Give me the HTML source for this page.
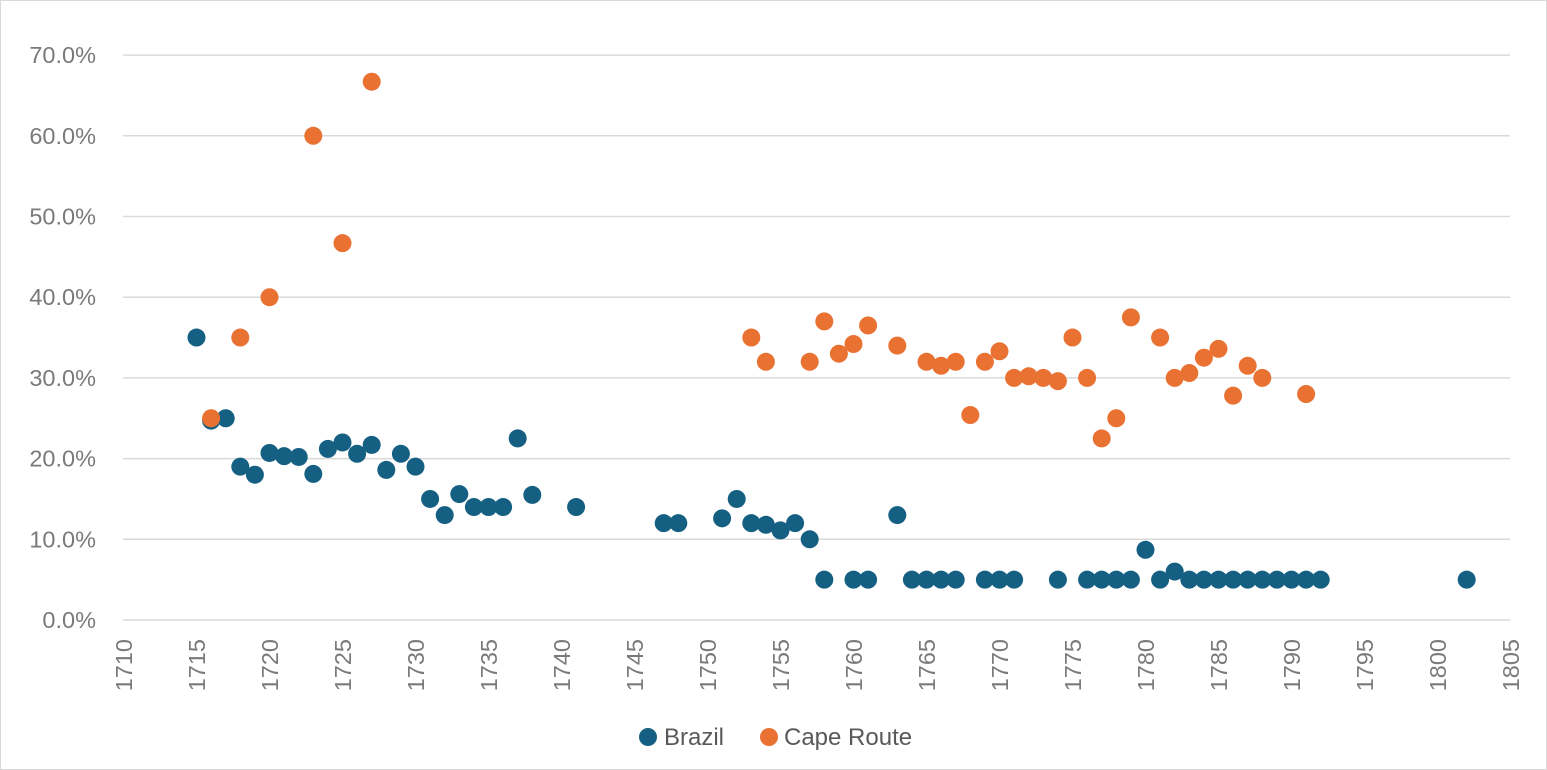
<!DOCTYPE html>
<html><head><meta charset="utf-8"><style>
html,body{margin:0;padding:0;background:#fff}
svg{display:block;font-family:"Liberation Sans",sans-serif}
</style></head><body>
<svg id="c" width="1547" height="770" xmlns="http://www.w3.org/2000/svg">
<rect x="0.5" y="0.5" width="1546" height="769" fill="#fff" stroke="#d9d9d9"/>
<g id="g"></g>
<circle cx="648" cy="737" r="9" fill="#156082"/>
<text x="664" y="745" font-size="24" fill="#595959">Brazil</text>
<circle cx="769" cy="737" r="9" fill="#E97132"/>
<text x="784" y="745" font-size="24" fill="#595959">Cape Route</text>
</svg>
<script>
var g=document.getElementById('g'),s='';
function X(yr){return 123.5+(yr-1710)*14.6;}
function Y(v){return 620-v*8.07;}
for(var i=0;i<=7;i++){var y=Y(i*10);
s+='<line x1="123" x2="1510" y1="'+y+'" y2="'+y+'" stroke="#d9d9d9" stroke-width="1.5"/>';
s+='<text x="96" y="'+(y+8)+'" font-size="23.5" fill="#7a7a7a" text-anchor="end">'+(i*10)+'.0%</text>';}
for(var yr=1710;yr<=1805;yr+=5){var x=X(yr);
s+='<text transform="translate('+(x+8.5)+',639) rotate(-90)" font-size="23.5" fill="#7a7a7a" text-anchor="end">'+yr+'</text>';}
var b=[[1715,35],[1716,24.7],[1717,25],[1718,19],[1719,18],[1720,20.7],[1721,20.3],[1722,20.2],[1723,18.1],[1724,21.2],[1725,22],[1726,20.6],[1727,21.7],[1728,18.6],[1729,20.6],[1730,19],[1731,15],[1732,13],[1733,15.6],[1734,14],[1735,14],[1736,14],[1737,22.5],[1738,15.5],[1741,14],[1747,12],[1748,12],[1751,12.6],[1752,15],[1753,12],[1754,11.8],[1755,11.1],[1756,12],[1757,10],[1758,5],[1760,5],[1761,5],[1763,13],[1764,5],[1765,5],[1766,5],[1767,5],[1769,5],[1770,5],[1771,5],[1774,5],[1776,5],[1777,5],[1778,5],[1779,5],[1780,8.7],[1781,5],[1782,6],[1783,5],[1784,5],[1785,5],[1786,5],[1787,5],[1788,5],[1789,5],[1790,5],[1791,5],[1792,5],[1802,5]];
var c=[[1716,25],[1718,35],[1720,40],[1723,60],[1725,46.7],[1727,66.7],[1753,35],[1754,32],[1757,32],[1758,37],[1759,33],[1760,34.2],[1761,36.5],[1763,34],[1765,32],[1766,31.5],[1767,32],[1768,25.4],[1769,32],[1770,33.3],[1771,30],[1772,30.2],[1773,30],[1774,29.6],[1775,35],[1776,30],[1777,22.5],[1778,25],[1779,37.5],[1781,35],[1782,30],[1783,30.6],[1784,32.5],[1785,33.6],[1786,27.8],[1787,31.5],[1788,30],[1791,28]];
b.forEach(function(p){s+='<circle cx="'+X(p[0])+'" cy="'+Y(p[1])+'" r="9" fill="#156082"/>';});
c.forEach(function(p){s+='<circle cx="'+X(p[0])+'" cy="'+Y(p[1])+'" r="9" fill="#E97132"/>';});
g.innerHTML=s;
</script>
</body></html>
